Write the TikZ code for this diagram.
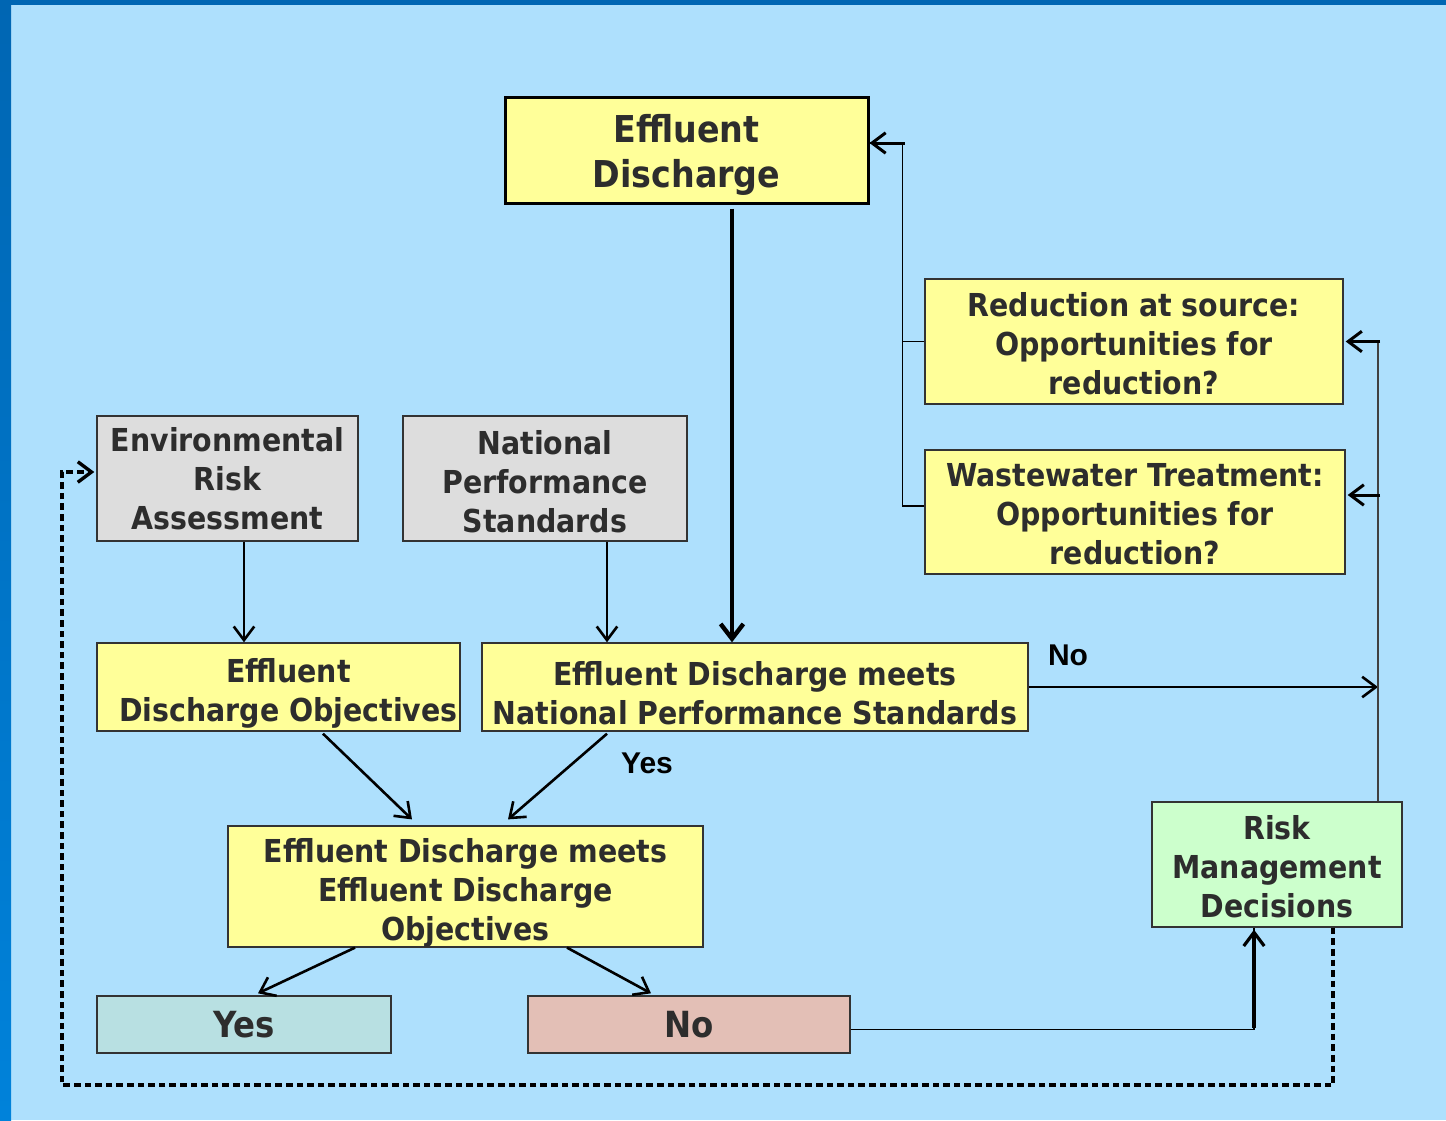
\documentclass[tikz,border=0pt]{standalone}
\usepackage{fontspec}
\setmainfont{DejaVu Sans Condensed}
\newfontfamily\lblfont{Liberation Sans}
\usepackage{xcolor}
\usepackage{tikz}
\usetikzlibrary{arrows.meta}
\tikzset{>={Straight Barb[length=2.4mm,width=3.6mm]}}
\definecolor{bgblue}{HTML}{AEE0FD}
\definecolor{bartop}{HTML}{0066B3}
\definecolor{barbot}{HTML}{0082DA}
\definecolor{boxyellow}{HTML}{FFFF99}
\definecolor{boxgray}{HTML}{DDDDDD}
\definecolor{boxgreen}{HTML}{CCFFCC}
\definecolor{boxteal}{HTML}{B8E0E2}
\definecolor{boxpink}{HTML}{E3BFB6}
\definecolor{ink}{HTML}{2D2D2D}
\newcommand{\pushdown}[1]{\rule{0pt}{#1}}

\begin{document}
\begin{tikzpicture}[x=0.5pt, y=-0.5pt, box/.style={rectangle, draw=black!80, line width=0.7pt, inner sep=0pt, align=center, text=ink, font=\bfseries\fontsize{15.8}{19.5}\selectfont}, yellowbox/.style={box, fill=boxyellow}, graybox/.style={box, fill=boxgray}, lbl/.style={font=\lblfont\bfseries\fontsize{15}{18}\selectfont, text=black}, link/.style={->, line width=1.3pt}]

    \useasboundingbox (0,0) rectangle (1446,1120);
    \fill[bgblue] (0,0) rectangle (1446,1120);
    \shade[top color=bartop, bottom color=barbot] (0,0) rectangle (11,1120);
    \fill[bartop] (0,0) rectangle (1446,5);

    %Nodes
    \node[yellowbox, line width=1.5pt, draw=black, minimum width=181.5pt, minimum height=53pt, font=\bfseries\fontsize{18.5}{22.5}\selectfont](discharge) at (686.5,150){\pushdown{19pt}Effluent\\Discharge};
    \node[yellowbox, minimum width=209pt, minimum height=62.5pt](source) at (1134,341.5){\pushdown{14pt}Reduction at source:\\Opportunities for\\reduction?};
    \node[yellowbox, minimum width=210pt, minimum height=62pt](treatment) at (1135,512){\pushdown{14pt}Wastewater Treatment:\\Opportunities for\\reduction?};
    \node[graybox, minimum width=130.5pt, minimum height=62.5pt](era) at (227.5,478.5){Environmental\\Risk\\Assessment};
    \node[graybox, minimum width=142pt, minimum height=62.5pt](nps) at (545,478.5){\pushdown{15.5pt}National\\Performance\\Standards};
    \node[yellowbox, minimum width=181.5pt, minimum height=44pt](objectives) at (278.5,687){\hspace*{10pt}\pushdown{18.5pt}Effluent\\\hspace*{10pt}Discharge Objectives};
    \node[yellowbox, minimum width=273pt, minimum height=44pt](meetsnps) at (755,687){\pushdown{18pt}Effluent Discharge meets\\National Performance Standards};
    \node[yellowbox, minimum width=237.5pt, minimum height=58.5pt](meetsobj) at (465.5,886.5){\pushdown{18pt}Effluent Discharge meets\\Effluent Discharge\\Objectives};
    \node[box, fill=boxgreen, minimum width=125pt, minimum height=62.5pt](decisions) at (1277,864.5){\pushdown{14pt}Risk\\Management\\Decisions};
    \node[box, fill=boxteal, minimum width=147pt, minimum height=28.5pt, font=\bfseries\fontsize{18}{22}\selectfont](yes) at (244,1024.5){Yes};
    \node[box, fill=boxpink, minimum width=161pt, minimum height=28.5pt, font=\bfseries\fontsize{18}{22}\selectfont](no) at (689,1024.5){No};
    \node[lbl](yes_label) at (647,763){Yes};
    \node[lbl](no_label) at (1068,655){No};
    \coordinate (riser) at ([xshift=50.5pt]decisions.north);
    \coordinate (loop_corner) at (62,1085);

    %Lines
    \draw[->, line width=2.2pt, >={Straight Barb[length=2.6mm,width=4mm]}] ([xshift=22.75pt,yshift=-2pt]discharge.south) -- ([xshift=22.75pt]discharge.south |- meetsnps.north);
    \draw[link] ([xshift=8.25pt]era.south) -- ([xshift=8.25pt]era.south |- objectives.north);
    \draw[link] ([xshift=31pt]nps.south) -- ([xshift=31pt]nps.south |- meetsnps.north);
    \draw[link] ([xshift=22.25pt,yshift=-1pt]objectives.south) -- ([xshift=-26.75pt,yshift=3pt]meetsobj.north);
    \draw[link] ([xshift=-74pt,yshift=-1pt]meetsnps.south) -- ([xshift=21.25pt,yshift=3pt]meetsobj.north);
    \draw[link] (meetsnps.east) -- (riser |- meetsnps.east);
    \draw[line width=0.7pt, black!75] (riser) -- (riser |- source.east);
    \draw[link, line width=1.5pt] ([xshift=1pt]riser |- source.east) -- ([xshift=1pt]source.east);
    \draw[link, line width=1.5pt] ([xshift=1pt,yshift=8.5pt]riser |- treatment.east) -- ([xshift=1pt,yshift=8.5pt]treatment.east);
    \draw[line width=0.7pt] (source.west) -- ++(-11pt,0);
    \draw[line width=0.7pt] ([yshift=3pt]treatment.west) -- ++(-11pt,0) |- ([yshift=3.5pt]discharge.east);
    \draw[link, line width=1.5pt] ([xshift=17.5pt,yshift=3.5pt]discharge.east) -- ([yshift=3.5pt]discharge.east);
    \draw[link] ([xshift=-55.25pt]meetsobj.south) -- ([xshift=7pt,yshift=1pt]yes.north);
    \draw[link] ([xshift=50.75pt]meetsobj.south) -- ([xshift=-19pt,yshift=1pt]no.north);
    \draw[line width=0.7pt] ([yshift=-2.5pt]no.east) -| ([xshift=-11.5pt]decisions.south);
    \draw[link, line width=1.6pt] ([xshift=-11.5pt,yshift=-50pt]decisions.south) -- ([xshift=-11.5pt,yshift=-1pt]decisions.south);
    \draw[->, line width=1.7pt, dash pattern=on 3.3pt off 2pt] ([xshift=28pt]decisions.south) |- (loop_corner) |- ([yshift=3.25pt,xshift=-1pt]era.west);

\end{tikzpicture}
\end{document}
